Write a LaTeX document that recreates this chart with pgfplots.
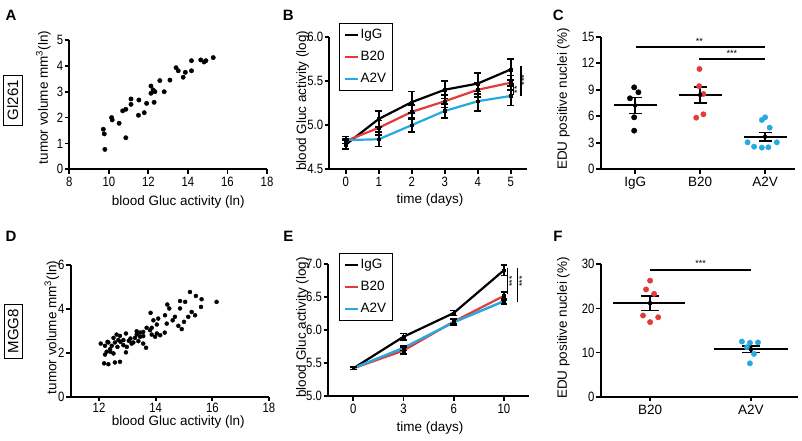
\documentclass[border=0pt]{standalone}
\usepackage{fontspec}
\setmainfont{Liberation Sans}
\setsansfont{Liberation Sans}
\newfontfamily\tkfont[FakeStretch=0.84]{Liberation Sans}
\usepackage{pgfplots}
\pgfplotsset{compat=1.18}
\definecolor{gred}{RGB}{227,59,59}
\definecolor{gblue}{RGB}{38,169,224}
\newcommand{\fs}{\fontsize{13.5}{16}\selectfont}
\newcommand{\stf}{\fontsize{9}{9}\selectfont}
\pgfplotsset{
 gp/.style={
  scale only axis, clip=false,
  axis lines=left,
  axis line style={-, line width=1.8pt, black},
  tick align=outside,
  major tick length=4.5pt,
  tick style={line width=1.8pt, black},
  font=\fs,
  tick label style={font=\tkfont\fs},
  yticklabel style={inner xsep=1.5pt},
  /pgf/number format/assume math mode=true,
  label style={font=\fs},
  xlabel style={anchor=center},
  ylabel style={anchor=center},
 },
 lg/.style={
  legend style={at={#1}, anchor=north west, draw=black, line width=0.8pt, fill=white,
   font=\fs, inner xsep=4pt, inner ysep=4pt, row sep=7pt, cells={anchor=west}},
  legend image code/.code={\draw[##1, line width=2.2pt] (0pt,0pt) -- (13pt,0pt);},
 },
 eb/.style={
  error bars/.cd, y dir=both, y explicit,
  error bar style={draw=black, line width=1.6pt},
  error mark options={rotate=90, draw=black, mark size=#1, line width=1.6pt},
 },
}
\begin{document}
\begin{tikzpicture}
\path[use as bounding box] (0,0) rectangle (802pt,440pt);

% panel letters
\node[font=\bfseries\fontsize{15}{15}\selectfont] at (11pt,424.7pt) {A};
\node[font=\bfseries\fontsize{15}{15}\selectfont] at (288.3pt,425pt) {B};
\node[font=\bfseries\fontsize{15}{15}\selectfont] at (558.3pt,425pt) {C};
\node[font=\bfseries\fontsize{15}{15}\selectfont] at (11pt,203.3pt) {D};
\node[font=\bfseries\fontsize{15}{15}\selectfont] at (288.3pt,203.3pt) {E};
\node[font=\bfseries\fontsize{15}{15}\selectfont] at (558pt,203.3pt) {F};
\node[draw, line width=0.8pt, rotate=90, inner xsep=5pt, inner ysep=4pt, font=\fontsize{15}{15}\selectfont] at (12.7pt,340pt) {Gl261};
\node[draw, line width=0.8pt, rotate=90, inner xsep=5pt, inner ysep=4pt, font=\fontsize{15}{15}\selectfont] at (13.3pt,108.7pt) {MGG8};

% ---------------- A
\begin{axis}[gp, at={(69.3pt,270.7pt)}, anchor=south west, width=197.7pt, height=129.3pt,
 xmin=8, xmax=18, ymin=0, ymax=5, xtick={8,10,...,18}, ytick={0,1,...,5},
 xlabel={blood Gluc activity (ln)}, ylabel={tumor volume mm\textsuperscript{3}(ln)},
 xlabel style={at={(axis description cs:0.551,-0.2506)}},
 ylabel style={at={(axis description cs:-0.1315,0.555)}}]
\addplot[only marks, mark=*, mark size=2.2pt, black] coordinates {
(9.72,1.55) (9.77,1.37) (9.80,0.77) (10.14,2.00) (10.17,1.91) (10.52,1.78)
(10.70,2.26) (10.86,2.32) (10.86,1.22) (11.12,2.72) (11.12,2.51) (11.52,2.68)
(11.50,2.09) (11.79,2.19) (11.91,2.55) (12.13,3.22) (12.13,2.94) (12.24,3.07)
(12.33,3.00) (12.29,2.59) (12.58,3.43) (12.80,3.00) (13.09,3.45) (13.40,3.93)
(13.51,3.81) (13.76,3.56) (13.87,3.75) (14.18,3.81) (14.18,4.20) (14.65,4.23)
(14.82,4.15) (14.91,4.20) (15.28,4.32)};
\end{axis}

% ---------------- B
\begin{axis}[gp, lg={(axis description cs:0.049,1.103)}, at={(329.3pt,270.7pt)}, anchor=south west, width=198pt, height=132.6pt,
 xmin=-0.5, xmax=5.5, ymin=4.5, ymax=6.0, xtick={0,...,5}, ytick={4.5,5.0,5.5,6.0},
 yticklabel style={/pgf/number format/.cd, fixed, fixed zerofill, precision=1},
 xlabel={time (days)}, ylabel={blood Gluc activity (log)},
 xlabel style={at={(axis description cs:0.509,-0.2315)}},
 ylabel style={at={(axis description cs:-0.135,0.517)}}]
\addplot[black, line width=2.2pt] coordinates {(0,4.78)(1,5.07)(2,5.26)(3,5.40)(4,5.47)(5,5.63)};
\addlegendentry{IgG}
\addplot[gred, line width=2.2pt] coordinates {(0,4.82)(1,4.97)(2,5.15)(3,5.27)(4,5.40)(5,5.48)};
\addlegendentry{B20}
\addplot[gblue, line width=2.2pt] coordinates {(0,4.83)(1,4.84)(2,5.00)(3,5.16)(4,5.27)(5,5.33)};
\addlegendentry{A2V}
\addplot[forget plot, black, only marks, mark=square*, mark size=1.3pt, eb=3.5pt] coordinates {
(0,4.78) +- (0,0.05) (1,5.07) +- (0,0.09) (2,5.26) +- (0,0.12) (3,5.40) +- (0,0.10) (4,5.47) +- (0,0.12) (5,5.63) +- (0,0.12)};
\addplot[forget plot, black, only marks, mark=square*, mark size=1.3pt, eb=3.5pt] coordinates {
(0,4.82) +- (0,0.03) (1,4.97) +- (0,0.08) (2,5.15) +- (0,0.08) (3,5.27) +- (0,0.07) (4,5.40) +- (0,0.08) (5,5.48) +- (0,0.08)};
\addplot[forget plot, black, only marks, mark=square*, mark size=1.3pt, eb=3.5pt] coordinates {
(0,4.83) +- (0,0.04) (1,4.84) +- (0,0.08) (2,5.00) +- (0,0.08) (3,5.16) +- (0,0.08) (4,5.27) +- (0,0.11) (5,5.33) +- (0,0.11)};
\draw[line width=1.2pt] (axis cs:5.08,5.48) -- (axis cs:5.08,5.34);
\node[rotate=90, font=\stf] at (axis cs:5.19,5.40) {**};
\draw[line width=1.2pt] (axis cs:5.31,5.67) -- (axis cs:5.31,5.33);
\node[rotate=90, font=\stf] at (axis cs:5.41,5.51) {***};
\end{axis}

% ---------------- C
\begin{axis}[gp, at={(600.7pt,270.7pt)}, anchor=south west, width=194.3pt, height=132.6pt,
 xmin=-0.53, xmax=2.46, ymin=0, ymax=15, xtick={0,1,2}, xticklabels={IgG,B20,A2V}, ytick={0,3,...,15},
 xticklabel style={font=\fs},
 ylabel={EDU positive nuclei (\%)},
 ylabel style={at={(axis description cs:-0.1925,0.53)}}]
\addplot[only marks, mark=*, mark size=2.7pt, black] coordinates {
(-0.015,9.27) (0.05,8.71) (-0.08,8.03) (-0.015,5.88) (-0.015,4.37)};
\addplot[only marks, mark=*, mark size=2.7pt, gred, mark options={draw=gred, fill=gred}] coordinates {
(0.99,11.35) (0.985,9.4) (1.05,8.52) (1.05,6.22) (0.94,5.84)};
\addplot[only marks, mark=*, mark size=2.7pt, gblue, mark options={draw=gblue, fill=gblue}] coordinates {
(2.0,5.88) (1.95,5.58) (2.07,4.71) (1.73,3.05) (1.83,2.56) (1.95,2.45) (2.05,2.49) (2.18,3.05)};
\addplot[black, line width=2pt] coordinates {(-0.33,7.22) (0.33,7.22)};
\addplot[black, line width=2pt] coordinates {(0.67,8.41) (1.33,8.41)};
\addplot[black, line width=2pt] coordinates {(1.67,3.69) (2.33,3.69)};
\addplot[black, only marks, mark=none, eb=6.5pt] coordinates {(0,7.22) +- (0,0.9) (1,8.41) +- (0,0.9) (2,3.69) +- (0,0.47)};
\draw[line width=1.8pt] (axis cs:0.01,13.87) -- (axis cs:2.0,13.87);
\node[font=\stf] at (axis cs:0.99,14.5) {**};
\draw[line width=1.8pt] (axis cs:0.99,12.47) -- (axis cs:2.0,12.47);
\node[font=\stf] at (axis cs:1.49,13.1) {***};
\end{axis}

% ---------------- D
\begin{axis}[gp, at={(70.7pt,43.3pt)}, anchor=south west, width=198.3pt, height=131.7pt,
 xmin=11, xmax=18, ymin=0, ymax=6, xtick={12,14,16,18}, ytick={0,2,4,6},
 xticklabel style={yshift=1.5pt},
 xlabel={blood Gluc activity (ln)}, ylabel={tumor volume mm\textsuperscript{3}(ln)},
 xlabel style={at={(axis description cs:0.5426,-0.19)}},
 ylabel style={at={(axis description cs:-0.095,0.525)}}]
\addplot[only marks, mark=*, mark size=2.0pt, black] coordinates {
(15.21,4.77) (15.42,4.59) (15.62,4.44) (16.15,4.32) (14.86,4.36) (15.04,4.32)
(14.41,4.20) (15.60,4.09) (14.48,4.02) (14.86,4.02) (15.27,3.86) (13.82,3.82)
(15.39,3.71) (15.15,3.64) (14.68,3.64) (14.33,3.71) (14.60,3.48) (14.09,3.56)
(13.92,3.48) (14.39,3.33) (15.00,3.41) (14.80,3.23) (14.92,3.08) (14.04,3.29)
(13.86,3.14) (13.68,3.14) (13.80,3.03) (13.56,2.95) (13.45,2.92) (13.33,2.83)
(14.04,2.88) (14.16,2.80) (13.98,2.73) (14.32,2.92) (13.86,2.83) (12.95,2.88)
(12.62,2.83) (12.74,2.77) (12.51,2.68) (13.27,2.68) (13.45,2.73) (13.56,2.76)
(13.11,2.65) (12.86,2.58) (12.76,2.50) (12.68,2.58) (12.56,2.47) (12.33,2.47)
(13.21,2.47) (13.39,2.53) (13.56,2.42) (12.86,2.35) (12.06,2.42) (12.21,2.32)
(12.45,2.32) (12.65,2.27) (12.39,2.17) (12.27,2.05) (12.98,2.27) (12.95,2.02)
(13.66,2.23) (12.51,1.97) (12.21,1.92) (12.18,1.52) (12.33,1.48) (12.56,1.56)
(12.74,1.59) (13.33,2.98) (13.15,2.42) (12.40,2.05) (13.05,2.55) (12.30,2.50)};
\end{axis}

% ---------------- E
\begin{axis}[gp, lg={(axis description cs:0.054,1.086)}, at={(328.2pt,44pt)}, anchor=south west, width=200.8pt, height=131.7pt,
 xmin=-0.5, xmax=3.5, ymin=5.0, ymax=7.0, xtick={0,1,2,3}, xticklabels={0,3,6,10}, ytick={5.0,5.5,...,7.0},
 yticklabel style={/pgf/number format/.cd, fixed, fixed zerofill, precision=1},
 xlabel={time (days)}, ylabel={blood Gluc activity (log)},
 xlabel style={at={(axis description cs:0.507,-0.245)}},
 ylabel style={at={(axis description cs:-0.128,0.52)}}]
\addplot[black, line width=2.2pt] coordinates {(0,5.42)(1,5.90)(2,6.26)(3,6.91)};
\addlegendentry{IgG}
\addplot[gblue, line width=2.2pt, forget plot] coordinates {(0,5.42)(1,5.73)(2,6.12)(3,6.44)};
\addplot[gred, line width=2.2pt] coordinates {(0,5.42)(1,5.69)(2,6.13)(3,6.52)};
\addlegendentry{B20}
\addplot[gblue, line width=2.2pt] coordinates {(0,5.42)(1,5.73)(2,6.12)(3,6.44)};
\addlegendentry{A2V}
\addplot[forget plot, black, only marks, mark=square*, mark size=1.3pt, eb=3.3pt] coordinates {
(0,5.42) +- (0,0.02) (1,5.90) +- (0,0.05) (2,6.26) +- (0,0.04) (3,6.91) +- (0,0.08)};
\addplot[forget plot, black, only marks, mark=square*, mark size=1.3pt, eb=3.3pt] coordinates {
(0,5.42) +- (0,0.02) (1,5.69) +- (0,0.05) (2,6.13) +- (0,0.04) (3,6.52) +- (0,0.06)};
\addplot[forget plot, black, only marks, mark=square*, mark size=1.3pt, eb=3.3pt] coordinates {
(0,5.42) +- (0,0.02) (1,5.73) +- (0,0.04) (2,6.12) +- (0,0.04) (3,6.44) +- (0,0.04)};
\draw[line width=1.2pt] (axis cs:3.076,6.94) -- (axis cs:3.076,6.55);
\node[rotate=90, font=\stf] at (axis cs:3.16,6.74) {***};
\draw[line width=1.2pt] (axis cs:3.27,6.94) -- (axis cs:3.27,6.43);
\node[rotate=90, font=\stf] at (axis cs:3.36,6.74) {***};
\end{axis}

% ---------------- F
\begin{axis}[gp, at={(600.7pt,43.3pt)}, anchor=south west, width=197.6pt, height=132.4pt,
 xmin=-0.49, xmax=1.47, ymin=0, ymax=30, xtick={0,1}, xticklabels={B20,A2V}, ytick={0,10,20,30},
 xticklabel style={font=\fs},
 ylabel={EDU positive nuclei (\%)},
 ylabel style={at={(axis description cs:-0.189,0.519)}}]
\addplot[only marks, mark=*, mark size=2.7pt, gred, mark options={draw=gred, fill=gred}] coordinates {
(0.0,26.3) (-0.04,24.3) (0.04,23.3) (-0.07,18.4) (0.08,18.0) (0.0,16.9)};
\addplot[only marks, mark=*, mark size=2.7pt, gblue, mark options={draw=gblue, fill=gblue}] coordinates {
(0.91,12.5) (0.99,12.2) (1.07,12.3) (0.96,11.2) (1.03,9.7) (0.99,7.56)};
\addplot[black, line width=2pt] coordinates {(-0.37,21.2) (0.35,21.2)};
\addplot[black, line width=2pt] coordinates {(0.63,10.73) (1.37,10.73)};
\addplot[black, only marks, mark=none, eb=9pt] coordinates {(0,21.2) +- (0,1.65) (1,10.73) +- (0,0.75)};
\draw[line width=1.8pt] (axis cs:0,28.7) -- (axis cs:1,28.7);
\node[font=\stf] at (axis cs:0.5,30.3) {***};
\end{axis}
\end{tikzpicture}
\end{document}
